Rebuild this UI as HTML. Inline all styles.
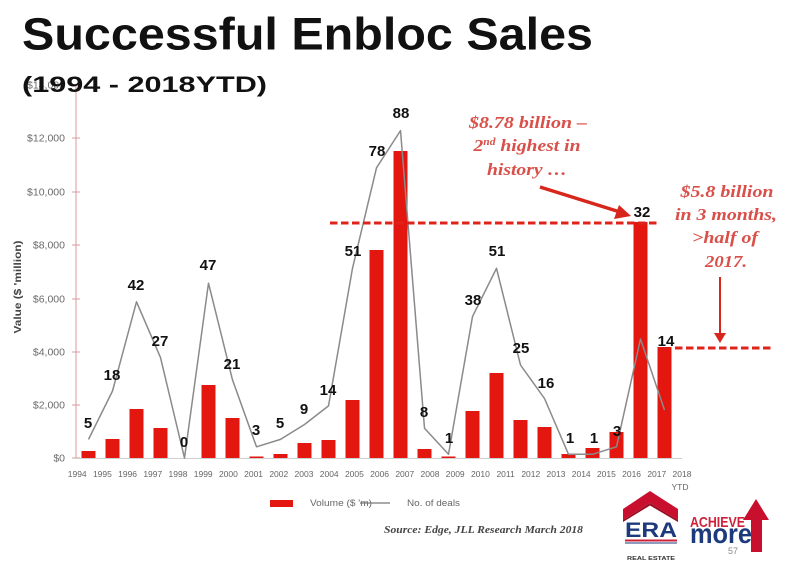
<!DOCTYPE html>
<html><head><meta charset="utf-8"><style>
html,body{margin:0;padding:0;background:#fff;}
svg{display:block;}
</style></head><body>
<svg width="800" height="568" viewBox="0 0 800 568" xmlns="http://www.w3.org/2000/svg">
<rect width="800" height="568" fill="#fff"/>

<!-- y axis labels -->
<g font-family="Liberation Sans, sans-serif" font-size="10.5" fill="#6a6a6a" text-anchor="end">
<text x="65" y="461.5">$0</text>
<text x="65" y="408.5">$2,000</text>
<text x="65" y="355.5">$4,000</text>
<text x="65" y="302.5">$6,000</text>
<text x="65" y="248.5">$8,000</text>
<text x="65" y="195.5">$10,000</text>
<text x="65" y="141.5">$12,000</text>
<text x="65" y="88.5">$14,000</text>
</g>
<!-- y axis line and ticks -->
<g stroke="#d99a9a" stroke-width="1">
<line x1="76" y1="85" x2="76" y2="458"/>
<line x1="72" y1="458" x2="80" y2="458"/>
<line x1="72" y1="405" x2="80" y2="405"/>
<line x1="72" y1="352" x2="80" y2="352"/>
<line x1="72" y1="299" x2="80" y2="299"/>
<line x1="72" y1="245" x2="80" y2="245"/>
<line x1="72" y1="192" x2="80" y2="192"/>
<line x1="72" y1="138" x2="80" y2="138"/>
<line x1="72" y1="85" x2="80" y2="85"/>
</g>
<line x1="76" y1="458.5" x2="682" y2="458.5" stroke="#cfcfcf" stroke-width="1"/>

<!-- y axis title -->
<text transform="translate(21,287) rotate(-90)" font-family="Liberation Sans, sans-serif" font-size="10" font-weight="bold" fill="#444" text-anchor="middle" textLength="93" lengthAdjust="spacingAndGlyphs">Value ($ 'million)</text>

<!-- bars -->
<g fill="#e3170f">
<rect x="81.5" y="451" width="14" height="7"/>
<rect x="105.5" y="439" width="14" height="19"/>
<rect x="129.5" y="409" width="14" height="49"/>
<rect x="153.5" y="428" width="14" height="30"/>
<rect x="201.5" y="385" width="14" height="73"/>
<rect x="225.5" y="418" width="14" height="40"/>
<rect x="249.5" y="456.5" width="14" height="1.5"/>
<rect x="273.5" y="454" width="14" height="4"/>
<rect x="297.5" y="443" width="14" height="15"/>
<rect x="321.5" y="440" width="14" height="18"/>
<rect x="345.5" y="400" width="14" height="58"/>
<rect x="369.5" y="250" width="14" height="208"/>
<rect x="393.5" y="151" width="14" height="307"/>
<rect x="417.5" y="449" width="14" height="9"/>
<rect x="441.5" y="456.5" width="14" height="1.5"/>
<rect x="465.5" y="411" width="14" height="47"/>
<rect x="489.5" y="373" width="14" height="85"/>
<rect x="513.5" y="420" width="14" height="38"/>
<rect x="537.5" y="427" width="14" height="31"/>
<rect x="561.5" y="454" width="14" height="4"/>
<rect x="585.5" y="448" width="14" height="10"/>
<rect x="609.5" y="432" width="14" height="26"/>
<rect x="633.5" y="222" width="14" height="236"/>
<rect x="657.5" y="347" width="14" height="111"/>
</g>

<!-- line series -->
<polyline fill="none" stroke="#8a8a8a" stroke-width="1.5" stroke-linejoin="round" points="88.5,439.4 112.5,391 136.5,301.8 160.5,357.6 184.5,458 208.5,283.2 232.5,379.9 256.5,446.8 280.5,439.4 304.5,424.5 328.5,405.9 352.5,268.3 376.5,167.8 400.5,130.6 424.5,428.2 448.5,454.3 472.5,316.6 496.5,268.3 520.5,365 544.5,398.5 568.5,454.3 592.5,454.3 616.5,446.8 640.5,339 664.5,410"/>

<!-- data labels -->
<g font-family="Liberation Sans, sans-serif" font-size="15" font-weight="bold" fill="#111" text-anchor="middle">
<text x="88" y="428">5</text>
<text x="112" y="380">18</text>
<text x="136" y="290">42</text>
<text x="160" y="346">27</text>
<text x="184" y="447">0</text>
<text x="208" y="270">47</text>
<text x="232" y="369">21</text>
<text x="256" y="435">3</text>
<text x="280" y="428">5</text>
<text x="304" y="414">9</text>
<text x="328" y="395">14</text>
<text x="353" y="256">51</text>
<text x="377" y="156">78</text>
<text x="401" y="118">88</text>
<text x="424" y="417">8</text>
<text x="449" y="443">1</text>
<text x="473" y="305">38</text>
<text x="497" y="256">51</text>
<text x="521" y="353">25</text>
<text x="546" y="388">16</text>
<text x="570" y="443">1</text>
<text x="594" y="443">1</text>
<text x="617" y="436">3</text>
<text x="642" y="217">32</text>
<text x="666" y="346">14</text>
</g>

<!-- x labels -->
<g font-family="Liberation Sans, sans-serif" font-size="8.5" fill="#666" text-anchor="middle">
<text x="77.2" y="477">1994</text>
<text x="102.4" y="477">1995</text>
<text x="127.6" y="477">1996</text>
<text x="152.8" y="477">1997</text>
<text x="178" y="477">1998</text>
<text x="203.2" y="477">1999</text>
<text x="228.4" y="477">2000</text>
<text x="253.6" y="477">2001</text>
<text x="278.8" y="477">2002</text>
<text x="304" y="477">2003</text>
<text x="329.2" y="477">2004</text>
<text x="354.4" y="477">2005</text>
<text x="379.6" y="477">2006</text>
<text x="404.8" y="477">2007</text>
<text x="430" y="477">2008</text>
<text x="455.2" y="477">2009</text>
<text x="480.4" y="477">2010</text>
<text x="505.6" y="477">2011</text>
<text x="530.8" y="477">2012</text>
<text x="556" y="477">2013</text>
<text x="581.2" y="477">2014</text>
<text x="606.4" y="477">2015</text>
<text x="631.6" y="477">2016</text>
<text x="656.8" y="477">2017</text>
<text x="682" y="477">2018</text>
<text x="680" y="490">YTD</text>
</g>

<!-- dashed lines -->
<line x1="330" y1="223" x2="658" y2="223" stroke="#e0231a" stroke-width="3" stroke-dasharray="7.5 3.5"/>
<line x1="675" y1="348" x2="771" y2="348" stroke="#e0231a" stroke-width="3" stroke-dasharray="7.5 3.5"/>

<!-- arrows -->
<line x1="540" y1="187" x2="620" y2="212" stroke="#d8261c" stroke-width="3.5"/>
<polygon points="631,216 614,219 619,205" fill="#d8261c"/>
<line x1="720" y1="277" x2="720" y2="336" stroke="#d8261c" stroke-width="2"/>
<polygon points="720,343 714,333 726,333" fill="#d8261c"/>

<!-- annotations -->
<g font-family="Liberation Serif, serif" font-size="17" font-weight="bold" font-style="italic" fill="#d9504a" text-anchor="middle">
<text x="528" y="128" textLength="118" lengthAdjust="spacingAndGlyphs">$8.78 billion –</text>
<text x="527" y="151" textLength="107" lengthAdjust="spacingAndGlyphs">2<tspan font-size="10" dy="-6">nd</tspan><tspan dy="6"> highest in</tspan></text>
<text x="527" y="175" textLength="80" lengthAdjust="spacingAndGlyphs">history …</text>
<text x="727" y="197" textLength="93" lengthAdjust="spacingAndGlyphs">$5.8 billion</text>
<text x="726" y="220" textLength="102" lengthAdjust="spacingAndGlyphs">in 3 months,</text>
<text x="725" y="243" textLength="66" lengthAdjust="spacingAndGlyphs">&gt;half of</text>
<text x="726" y="267" textLength="42" lengthAdjust="spacingAndGlyphs">2017.</text>
</g>

<!-- title -->
<text x="22" y="49.5" font-family="Liberation Sans, sans-serif" font-size="45" font-weight="bold" fill="#111" textLength="571" lengthAdjust="spacingAndGlyphs">Successful Enbloc Sales</text>
<text x="22" y="92" font-family="Liberation Sans, sans-serif" font-size="22" font-weight="bold" fill="#111" textLength="245" lengthAdjust="spacingAndGlyphs">(1994 - 2018YTD)</text>

<!-- legend -->
<rect x="270" y="500" width="23" height="7" fill="#e3170f"/>
<g font-family="Liberation Sans, sans-serif" font-size="9" fill="#666">
<text x="310" y="506" textLength="62" lengthAdjust="spacingAndGlyphs">Volume ($ 'm)</text>
<text x="407" y="506" textLength="53" lengthAdjust="spacingAndGlyphs">No. of deals</text>
</g>
<line x1="360" y1="503" x2="390" y2="503" stroke="#777" stroke-width="1.2"/>

<!-- source -->
<text x="384" y="533" font-family="Liberation Serif, serif" font-size="11" font-weight="bold" font-style="italic" fill="#444" textLength="199" lengthAdjust="spacingAndGlyphs">Source: Edge, JLL Research March 2018</text>

<!-- ERA logo -->
<polygon points="650,491 678,509 678,520 650,503 623,520 623,509" fill="#c8102e"/>
<polygon points="650,503 678,520 678,522 650,505.5 623,522 623,520" fill="#9a0c22"/>
<text x="625" y="537" font-family="Liberation Sans, sans-serif" font-size="21" font-weight="bold" fill="#1d3a7d" textLength="52" lengthAdjust="spacingAndGlyphs">ERA</text>
<rect x="625" y="539.5" width="52" height="2" fill="#d0213a"/>
<rect x="625" y="542.5" width="52" height="1" fill="#1d3a7d"/>
<text x="627" y="560" font-family="Liberation Sans, sans-serif" font-size="5.5" font-weight="bold" fill="#333" textLength="48" lengthAdjust="spacingAndGlyphs">REAL ESTATE</text>

<!-- Achieve more logo -->
<polygon points="756,499 769,520 762,520 762,552 751,552 751,520 743,520" fill="#c8102e"/>
<text x="690" y="527" font-family="Liberation Sans, sans-serif" font-size="15" font-weight="bold" fill="#d0213a" textLength="55" lengthAdjust="spacingAndGlyphs">ACHIEVE</text>
<text x="690" y="543" font-family="Liberation Sans, sans-serif" font-size="28" font-weight="bold" fill="#1d3a7d" textLength="62" lengthAdjust="spacingAndGlyphs">more</text>
<text x="728" y="554" font-family="Liberation Sans, sans-serif" font-size="9" fill="#888">57</text>
</svg>
</body></html>
